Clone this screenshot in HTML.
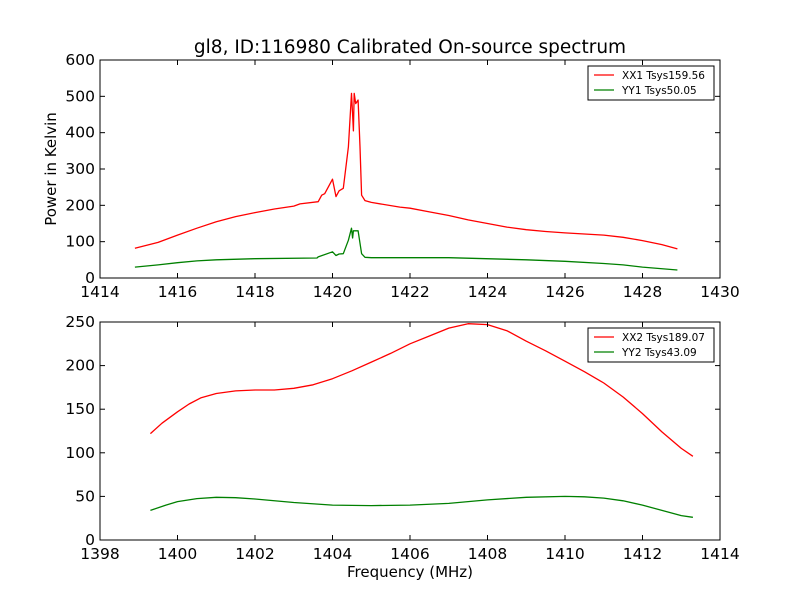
<!DOCTYPE html>
<html><head><meta charset="utf-8"><style>
body{margin:0;background:#fff;font-family:"DejaVu Sans","Liberation Sans",sans-serif;}
svg text{font-family:"DejaVu Sans","Liberation Sans",sans-serif;}
</style></head><body>
<svg id="c" width="800" height="600" xmlns="http://www.w3.org/2000/svg">
<rect width="800" height="600" fill="#fff"/>
<text x="410" y="53" font-size="18.5" text-anchor="middle">gl8, ID:116980 Calibrated On-source spectrum</text>
<text x="56" y="169" font-size="15" text-anchor="middle" transform="rotate(-90 56 169)">Power in Kelvin</text>
<text x="410" y="577" font-size="15" text-anchor="middle">Frequency (MHz)</text>
</svg>
<script>
const topXX1F=[1414.9,1415.5,1416,1416.5,1417,1417.5,1418,1418.5,1419,1419.16,1419.63,1419.72,1419.8,1420.0,1420.09,1420.17,1420.28,1420.41,1420.49,1420.52,1420.54,1420.56,1420.6,1420.66,1420.71,1420.75,1420.84,1421,1421.74,1422,1422.5,1423,1423.5,1424,1424.5,1425,1425.5,1426,1426.5,1427,1427.5,1428,1428.5,1428.9];
const topXX1V=[82,98,118,137,155,169,180,190,198,204,210,228,232,272,224,240,247,361,508,450,405,508,480,490,361,228,213,208,195,192,182,172,160,150,140,133,128,124,121,118,112,103,92,80];
const topYY1F=[1414.9,1415.5,1416,1416.5,1417,1418,1419.6,1419.63,1420.0,1420.09,1420.17,1420.28,1420.41,1420.49,1420.52,1420.54,1420.6,1420.66,1420.75,1420.84,1421,1423,1425,1426,1427,1427.5,1428,1428.9];
const topYY1V=[30,36,42,47,50,53,55,58,72,62,66,67,104,137,110,130,130,130,67,57,56,56,50,46,40,36,30,22];
const botXX2F=[1399.3,1399.6,1400,1400.3,1400.6,1401,1401.5,1402,1402.5,1403,1403.5,1404,1404.5,1405,1405.5,1406,1406.5,1407,1407.5,1408,1408.5,1409,1409.5,1410,1410.5,1411,1411.5,1412,1412.5,1413,1413.3];
const botXX2V=[122,134,147,156,163,168,171,172,172,174,178,185,194,204,214,225,234,243,248,247,240,228,217,205,193,180,164,145,124,105,96];
const botYY2F=[1399.3,1399.7,1400,1400.5,1401,1401.5,1402,1403,1404,1405,1406,1407,1408,1409,1410,1410.5,1411,1411.5,1412,1412.5,1413,1413.3];
const botYY2V=[34,40,44,47.5,49,48.5,47,43,40,39.5,40,42,46,49,50,49.5,48,45,40,34,28,26];
const topXTicks=[1414,1416,1418,1420,1422,1424,1426,1428,1430];
const topYTicks=[0,100,200,300,400,500,600];
const botXTicks=[1398,1400,1402,1404,1406,1408,1410,1412,1414];
const botYTicks=[0,50,100,150,200,250];
const NS="http://www.w3.org/2000/svg";
const svg=document.getElementById('c');
function el(t,a,txt){const e=document.createElementNS(NS,t);for(const k in a)e.setAttribute(k,a[k]);if(txt!==undefined)e.textContent=txt;svg.appendChild(e);return e;}
function panel(name,L,T,W,H,x0,x1,y0,y1,xt,yt,series,legend){
  const sx=f=>L+(f-x0)/(x1-x0)*W, sy=v=>T+H-(v-y0)/(y1-y0)*H;
  series.forEach(s=>{
    const p=el('polyline',{points:s.f.map((f,i)=>sx(f).toFixed(1)+','+sy(s.v[i]).toFixed(1)).join(' '),fill:'none',stroke:s.c,'stroke-width':1.3,'stroke-linejoin':'round'});
    
    
  });
  const fr=el('rect',{x:L,y:T,width:W,height:H,fill:'none',stroke:'#000','stroke-width':1});
  
  
  xt.forEach(t=>{const x=sx(t);
    el('line',{x1:x,x2:x,y1:T+H,y2:T+H-5,stroke:'#000'});el('line',{x1:x,x2:x,y1:T,y2:T+5,stroke:'#000'});
    const tx=el('text',{x:x,y:T+H+19,'font-size':15.5,'text-anchor':'middle'},t);
    
    });
  yt.forEach(t=>{const y=sy(t);
    el('line',{x1:L,x2:L+5,y1:y,y2:y,stroke:'#000'});el('line',{x1:L+W,x2:L+W-5,y1:y,y2:y,stroke:'#000'});
    const tx=el('text',{x:L-5,y:y+5,'font-size':15.5,'text-anchor':'end'},t);
    
    });
  const lg=el('rect',{x:588,y:T+6,width:126,height:34,fill:'#fff',stroke:'#000'});
  
  
  legend.forEach((l,i)=>{const y=T+15+i*15;
    el('line',{x1:594,x2:614,y1:y,y2:y,stroke:l.c,'stroke-width':1.3});
    const tx=el('text',{x:622,y:y+4,'font-size':10.5},l.t);
    
    });
}
panel('top',100,60,620,218,1414,1430,0,600,topXTicks,topYTicks,
 [{f:topXX1F,v:topXX1V,c:'#ff0000',n:'xx1-line'},{f:topYY1F,v:topYY1V,c:'#008000',n:'yy1-line'}],
 [{c:'#ff0000',t:'XX1 Tsys159.56'},{c:'#008000',t:'YY1 Tsys50.05'}]);
panel('bottom',100,322,620,218,1398,1414,0,250,botXTicks,botYTicks,
 [{f:botXX2F,v:botXX2V,c:'#ff0000',n:'xx2-line'},{f:botYY2F,v:botYY2V,c:'#008000',n:'yy2-line'}],
 [{c:'#ff0000',t:'XX2 Tsys189.07'},{c:'#008000',t:'YY2 Tsys43.09'}]);
</script>
</body></html>
